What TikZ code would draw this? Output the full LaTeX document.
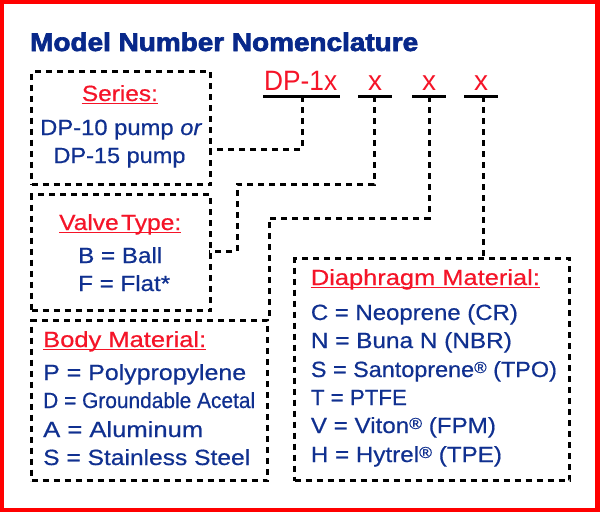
\documentclass[tikz,border=0pt]{standalone}
\usepackage{fontspec}
\setmainfont{Liberation Sans}
\newfontfamily\bodyfont{Liberation Sans}[FakeBold=0.5]
\newfontfamily\titlefont{Liberation Sans}[FakeBold=2.5]
\usetikzlibrary{calc}
\definecolor{navy}{RGB}{8,40,138}
\definecolor{txtblue}{RGB}{16,48,144}
\definecolor{hred}{RGB}{245,20,40}
\newcommand{\regm}{\raisebox{4pt}{\fontsize{16}{16}\selectfont ®}}
\newcommand{\fitw}[2]{\resizebox{#1pt}{\height}{#2}}
\begin{document}
\begin{tikzpicture}[x=1pt,y=-1pt,
  box/.style={draw=black,line width=3pt,dash pattern=on 6pt off 5pt,inner sep=0pt,anchor=north west},
  conn/.style={draw=black,line width=3pt,dash pattern=on 6pt off 5pt},
  head/.style={inner sep=0pt,text=hred,font=\bodyfont\fontsize{22}{28}\selectfont},
  bodytxt/.style={inner sep=0pt,text=txtblue,font=\bodyfont\fontsize{22}{28.5}\selectfont,anchor=base west},
  code/.style={inner sep=0pt,text=hred,font=\fontsize{28}{30}\selectfont,anchor=base},
  ul/.style={draw=hred,line width=1.5pt},
  bar/.style={draw=black,line width=3pt}]
\useasboundingbox (0,0) rectangle (600,512);
\fill[red] (0,0) rectangle (600,512);
\fill[white] (4,4) rectangle (595,507.5);
% title
\node[anchor=base west,inner sep=0pt,text=navy,font=\titlefont\bfseries\fontsize{25.5}{28}\selectfont] (title) at (30,51) {\fitw{388}{Model Number Nomenclature}};
% boxes
\node[box,minimum width=179pt,minimum height=113pt] (series) at (30,70) {};
\node[box,minimum width=179pt,minimum height=116pt] (valve) at (30,193) {};
\node[box,minimum width=236pt,minimum height=160pt] (body) at (30,319) {};
\node[box,minimum width=275pt,minimum height=222pt] (diaph) at (293,257) {};
% code letters
\node[code,anchor=base west] (c0) at (264,90) {\fitw{73}{DP-1x}};
\node[code] (c1) at (375,90) {x};
\node[code] (c2) at (429,90) {x};
\node[code] (c3) at (481,90) {x};
\coordinate (b0l) at (263,96); \coordinate (b0r) at (340,96);
\coordinate (b1l) at (358,96); \coordinate (b1r) at (392,96);
\coordinate (b2l) at (412,96); \coordinate (b2r) at (446,96);
\coordinate (b3l) at (464,96); \coordinate (b3r) at (498,96);
\draw[bar] (b0l) -- (b0r);
\draw[bar] (b1l) -- (b1r);
\draw[bar] (b2l) -- (b2r);
\draw[bar] (b3l) -- (b3r);
% connectors
\coordinate (t0) at (302,96);
\coordinate (t1) at (374,96);
\coordinate (t2) at (429,96);
\coordinate (t3) at (483,96);
\coordinate (sin) at (209,149);
\coordinate (vin) at (209,251);
\draw[conn] (t0) |- (sin);
\draw[conn] (t1) -- (374,184) -- (237,184) -- (237,251) -- (vin);
\draw[conn] (t2) -- (429,218) -| (body.north east);
\draw[conn] (t3) -- (t3 |- diaph.north);
% series
\node[head,anchor=base west] (sh) at (81.7,101) {\fitw{76}{Series:}};
\draw[ul] ($(sh.base west)+(0,2.5)$) -- ($(sh.base east)+(0,2.5)$);
\node[bodytxt] (s1) at (40,135) {\fitw{162}{DP-10 pump \textit{or}}};
\node[bodytxt] (s2) at (53.3,163) {\fitw{132}{DP-15 pump}};
% valve
\node[head,anchor=base west] (vh) at (59,230) {\fitw{122}{Valve\hspace{0.1em}Type:}};
\draw[ul] ($(vh.base west)+(0,2.5)$) -- ($(vh.base east)+(0,2.5)$);
\node[bodytxt] (v1) at (78,263) {\fitw{84}{B = Ball}};
\node[bodytxt] (v2) at (78,291) {\fitw{92}{F = Flat*}};
% body
\node[head,anchor=base west] (bh) at (43,347) {\fitw{163}{Body Material:}};
\draw[ul] ($(bh.base west)+(0,2.5)$) -- ($(bh.base east)+(0,2.5)$);
\node[bodytxt] (m1) at (43,380) {\fitw{203}{P = Polypropylene}};
\node[bodytxt] (m2) at (43,408) {\fitw{212}{D = Groundable Acetal}};
\node[bodytxt] (m3) at (43,437) {\fitw{160}{A = Aluminum}};
\node[bodytxt] (m4) at (43,465) {\fitw{207}{S = Stainless Steel}};
% diaphragm
\node[head,anchor=base west] (dh) at (310.7,285) {\fitw{229}{Diaphragm Material:}};
\draw[ul] ($(dh.base west)+(0,2.5)$) -- ($(dh.base east)+(0,2.5)$);
\node[bodytxt] (d1) at (310.7,320) {\fitw{207}{C = Neoprene (CR)}};
\node[bodytxt] (d2) at (310.7,348) {\fitw{201}{N = Buna N (NBR)}};
\node[bodytxt] (d3) at (310.7,377) {\fitw{246}{S = Santoprene\regm{} (TPO)}};
\node[bodytxt] (d4) at (310.7,405) {\fitw{96}{T = PTFE}};
\node[bodytxt] (d5) at (310.7,433) {\fitw{185}{V = Viton\regm{} (FPM)}};
\node[bodytxt] (d6) at (310.7,462) {\fitw{191}{H = Hytrel\regm{} (TPE)}};
\end{tikzpicture}
\end{document}
